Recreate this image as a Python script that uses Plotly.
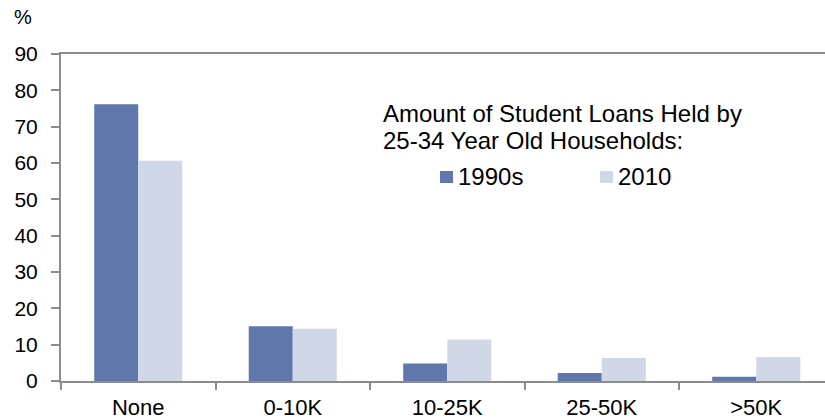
import plotly.graph_objects as go

# Share of 25-34 year old households by amount of student loans held
categories = ["None", "0-10K", "10-25K", "25-50K", ">50K"]
share_1990s = [76.2, 15.1, 4.8, 2.2, 1.2]
share_2010 = [60.6, 14.4, 11.4, 6.3, 6.6]
y_ticks = [0, 10, 20, 30, 40, 50, 60, 70, 80, 90]

COLOR_1990S = "#5f77aa"
COLOR_2010 = "#d0d8e8"
AXIS_GRAY = "#8c8c8c"
FONT = "Liberation Sans, Arial, sans-serif"

# Plot area in pixels: left 61, right 825, top 54, bottom 381
PX_L, PX_R, PX_T, PX_B = 61, 825, 54, 381


def px_x(x):
    return (x - PX_L) / (PX_R - PX_L)


def px_y(y):
    return (PX_B - y) / (PX_B - PX_T)


fig = go.Figure()
fig.add_trace(go.Bar(x=categories, y=share_1990s, name="1990s",
                     marker=dict(color=COLOR_1990S, line=dict(width=0))))
fig.add_trace(go.Bar(x=categories, y=share_2010, name="2010",
                     marker=dict(color=COLOR_2010, line=dict(width=0))))

fig.update_layout(
    width=825, height=420,
    margin=dict(l=PX_L, r=825 - PX_R, t=PX_T, b=420 - PX_B, pad=0),
    paper_bgcolor="white", plot_bgcolor="white",
    barmode="group", bargap=0.43, bargroupgap=0,
    showlegend=False,
    font=dict(family=FONT, size=21, color="#000000"),
)

fig.update_xaxes(
    type="category", range=[-0.5, 4.445],
    showline=True, linecolor=AXIS_GRAY, linewidth=2, mirror=True,
    ticks="outside", tickson="boundaries", ticklen=7, tickwidth=1.5,
    tickcolor=AXIS_GRAY, showgrid=False, zeroline=False,
    ticklabelstandoff=6,
    tickfont=dict(size=22, family=FONT), fixedrange=True,
)
fig.update_yaxes(
    range=[0, 90], tickvals=y_ticks,
    showline=True, linecolor=AXIS_GRAY, linewidth=2,
    ticks="outside", ticklen=8, tickwidth=1.5, tickcolor=AXIS_GRAY,
    showgrid=False, zeroline=False, ticklabelstandoff=9,
    tickfont=dict(size=21, family=FONT), fixedrange=True,
)

# Unit label above the value axis
fig.add_annotation(text="%", xref="paper", yref="paper", x=px_x(12), y=px_y(17),
                   xanchor="left", yanchor="middle", showarrow=False,
                   font=dict(size=20, family=FONT))

# Legend title, one annotation per line
for line, ymid in [("Amount of Student Loans Held by", 113),
                   ("25-34 Year Old Households:", 140)]:
    fig.add_annotation(
        text=line, xref="paper", yref="paper", x=px_x(381), y=px_y(ymid),
        xanchor="left", yanchor="middle", align="left", showarrow=False,
        font=dict(size=24, family=FONT),
    )

# Legend entries: colour key plus series name
for name, color, key_x in [("1990s", COLOR_1990S, 440), ("2010", COLOR_2010, 600)]:
    fig.add_shape(type="rect", xref="paper", yref="paper",
                  x0=px_x(key_x), x1=px_x(key_x + 13),
                  y0=px_y(183), y1=px_y(171),
                  fillcolor=color, line=dict(width=0))
    fig.add_annotation(
        text=name, xref="paper", yref="paper", x=px_x(key_x + 16), y=px_y(176),
        xanchor="left", yanchor="middle", showarrow=False,
        font=dict(size=24, family=FONT),
    )

fig.write_html("out.html")
